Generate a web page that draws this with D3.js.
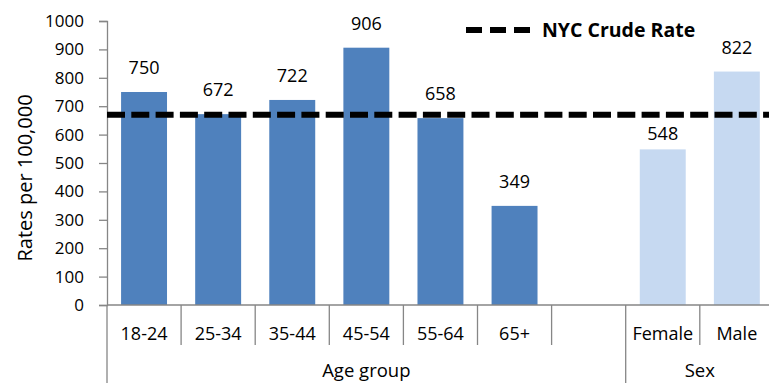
<!DOCTYPE html>
<html>
<head>
<meta charset="utf-8">
<script src="https://cdn.jsdelivr.net/npm/d3@7"></script>
<style>
  html, body { margin: 0; padding: 0; background: #fff; }
  svg { display: block; font-family: "Open Sans", "Lato", sans-serif; }
</style>
</head>
<body>
<svg id="chart" width="769" height="383"></svg>
<script>
// Rates per 100,000 by age group and sex
const categories = ["18-24", "25-34", "35-44", "45-54", "55-64", "65+", "", "Female", "Male"];
const rates      = [750, 672, 722, 906, 658, 349, null, 548, 822];
const groupNames = ["Age group", "Sex"];
const groupSizes = [7, 2];
const crudeRate  = 670;
const crudeLabel = "NYC Crude Rate";
const yTicks     = [0, 100, 200, 300, 400, 500, 600, 700, 800, 900, 1000];

const svg = d3.select("#chart");
const W = 769, H = 383;
const plotLeft = 107, plotTop = 21, plotBottom = 305;
const step = 74.1;
const fontFamily = "'Open Sans', Lato, sans-serif";

const x = d3.scaleBand()
  .domain(categories)
  .range([plotLeft, plotLeft + step * categories.length])
  .padding(0);

const y = d3.scaleLinear().domain([0, 1000]).range([plotBottom, plotTop]);

const axisColor = "#868686";
const darkBlue = "#4F81BD", lightBlue = "#C6D9F1";

// group index for each category
const groupOf = [];
groupSizes.forEach((n, g) => { for (let i = 0; i < n; i++) groupOf.push(g); });

// bars
const barW = x.bandwidth() * 0.62;
const data = categories.map((c, i) => ({ c, v: rates[i], g: groupOf[i] }));
svg.append("g").selectAll("rect")
  .data(data.filter(d => d.v != null))
  .join("rect")
  .attr("x", d => x(d.c) + (x.bandwidth() - barW) / 2)
  .attr("width", barW)
  .attr("y", d => y(d.v))
  .attr("height", d => y(0) - y(d.v))
  .attr("fill", d => d.g === 0 ? darkBlue : lightBlue);

// value labels
svg.append("g").selectAll("text")
  .data(data.filter(d => d.v != null))
  .join("text")
  .attr("x", d => x(d.c) + x.bandwidth() / 2)
  .attr("y", d => y(d.v) - (d.c === "Female" ? 9.5 : 18))
  .attr("text-anchor", "middle")
  .attr("font-size", 18)
  .attr("fill", "#000")
  .text(d => d.v);

// y axis
const yAxis = d3.axisLeft(y).tickValues(yTicks).tickFormat(d3.format("d"))
  .tickSize(8).tickPadding(15);
const gy = svg.append("g").attr("transform", `translate(${plotLeft},0)`).call(yAxis);
gy.select(".domain").attr("stroke", axisColor).attr("stroke-width", 1.3);
gy.selectAll(".tick line").attr("stroke", axisColor).attr("stroke-width", 1.3);
gy.selectAll(".tick text").attr("font-size", 17).attr("fill", "#000")
  .attr("font-family", fontFamily);

// x axis baseline
svg.append("line")
  .attr("x1", plotLeft).attr("x2", W)
  .attr("y1", y(0)).attr("y2", y(0))
  .attr("stroke", axisColor).attr("stroke-width", 1.3);

// category separators: short within a group, long between groups
const groupStarts = [0];
groupSizes.forEach((n, g) => groupStarts.push(groupStarts[g] + n));
categories.forEach((c, i) => {
  const xb = x(c);
  const isGroupEdge = groupStarts.includes(i);
  svg.append("line")
    .attr("x1", xb).attr("x2", xb)
    .attr("y1", y(0)).attr("y2", isGroupEdge ? H : y(0) + 40)
    .attr("stroke", axisColor).attr("stroke-width", 1.3);
});

// category labels
svg.append("g").selectAll("text")
  .data(categories)
  .join("text")
  .attr("x", c => x(c) + x.bandwidth() / 2)
  .attr("y", 340)
  .attr("text-anchor", "middle")
  .attr("font-size", 18)
  .text(c => c);

// group labels
groupNames.forEach((name, g) => {
  const x0 = x(categories[groupStarts[g]]);
  const x1 = x(categories[groupStarts[g + 1] - 1]) + x.bandwidth();
  svg.append("text")
    .attr("x", (x0 + x1) / 2)
    .attr("y", 377)
    .attr("text-anchor", "middle")
    .attr("font-size", 18.5)
    .text(name);
});

// y axis title
svg.append("text")
  .attr("transform", `translate(32,178) rotate(-90)`)
  .attr("text-anchor", "middle")
  .attr("font-size", 20)
  .text("Rates per 100,000");

// crude rate reference line
svg.append("line")
  .attr("x1", plotLeft).attr("x2", W)
  .attr("y1", y(crudeRate)).attr("y2", y(crudeRate))
  .attr("stroke", "#000").attr("stroke-width", 6)
  .attr("stroke-dasharray", "18,6.3");

// legend
svg.append("line")
  .attr("x1", 466).attr("x2", 532)
  .attr("y1", 30).attr("y2", 30)
  .attr("stroke", "#000").attr("stroke-width", 6)
  .attr("stroke-dasharray", "16,8");
svg.append("text")
  .attr("x", 542).attr("y", 37)
  .attr("font-size", 19.5)
  .attr("font-weight", "bold")
  .text(crudeLabel);
</script>
</body>
</html>
